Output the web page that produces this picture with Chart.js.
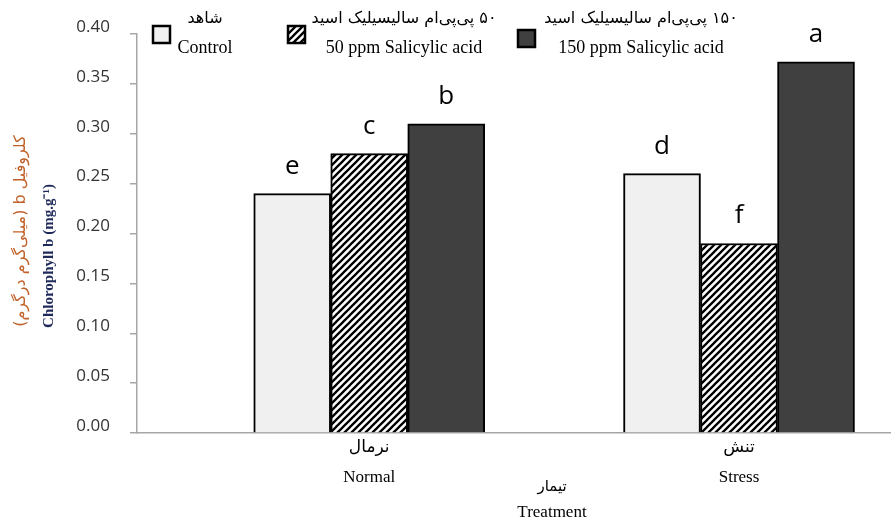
<!DOCTYPE html>
<html>
<head>
<meta charset="utf-8">
<script src="https://cdn.jsdelivr.net/npm/chart.js@4.4.1/dist/chart.umd.min.js"></script>
<style>
  body { margin: 0; background: #fff; }
  canvas { display: block; }
</style>
</head>
<body>
<canvas id="chart" width="891" height="522"></canvas>
<script>
// groups on the x axis
const groupsFa = ["نرمال", "تنش"];
const groupsEn = ["Normal", "Stress"];

// series names (legend)
const seriesFa = ["شاهد", "۵۰ پی‌پی‌ام سالیسیلیک اسید", "۱۵۰ پی‌پی‌ام سالیسیلیک اسید"];
const seriesEn = ["Control", "50 ppm Salicylic acid", "150 ppm Salicylic acid"];

// chlorophyll b (mg.g-1), one value per group
const controlValues = [0.24, 0.26];
const sa50Values = [0.28, 0.19];
const sa150Values = [0.31, 0.372];

// Duncan letters above the bars
const controlLetters = ["e", "d"];
const sa50Letters = ["c", "f"];
const sa150Letters = ["b", "a"];

// y axis tick labels
const yTicks = ["0.00", "0.05", "0.10", "0.15", "0.20", "0.25", "0.30", "0.35", "0.40"];

(function () {
  "use strict";

  const canvas = document.getElementById("chart");
  const ctx = canvas.getContext("2d");

  // diagonal hatch for the 50 ppm bars
  function makeHatch() {
    const n = 7;
    const tile = document.createElement("canvas");
    tile.width = n;
    tile.height = n;
    const t = tile.getContext("2d");
    t.fillStyle = "#fff";
    t.fillRect(0, 0, n, n);
    t.strokeStyle = "#000";
    t.lineWidth = 2.3;
    t.beginPath();
    t.moveTo(-1, n + 1); t.lineTo(n + 1, -1);
    t.moveTo(-1, 1); t.lineTo(1, -1);
    t.moveTo(n - 1, n + 1); t.lineTo(n + 1, n - 1);
    t.stroke();
    return ctx.createPattern(tile, "repeat");
  }
  const hatch = makeHatch();

  const fills = ["#f0f0f0", hatch, "#404040"];
  const seriesValues = [controlValues, sa50Values, sa150Values];
  const seriesLetters = [controlLetters, sa50Letters, sa150Letters];

  // letters, legend and axis titles drawn on the canvas
  const extrasPlugin = {
    id: "extras",
    afterDatasetsDraw(chart) {
      const c = chart.ctx;
      c.save();
      c.fillStyle = "#000";
      c.font = "26px 'Open Sans'";
      c.textAlign = "center";
      c.textBaseline = "alphabetic";
      seriesLetters.forEach((letters, s) => {
        chart.getDatasetMeta(s).data.forEach((bar, i) => {
          c.fillText(letters[i], bar.x, bar.y - 20);
        });
      });
      c.restore();
    },
    afterDraw(chart) {
      const c = chart.ctx;
      c.save();

      // legend
      const items = [
        { bx: 153, by: 26, cx: 205 },
        { bx: 288, by: 26, cx: 404 },
        { bx: 518, by: 30, cx: 641 },
      ];
      items.forEach((it, s) => {
        c.fillStyle = fills[s];
        c.fillRect(it.bx, it.by, 17, 17);
        c.strokeStyle = "#000";
        c.lineWidth = 2.5;
        c.strokeRect(it.bx, it.by, 17, 17);

        c.fillStyle = "#000";
        c.textAlign = "center";
        c.textBaseline = "middle";
        c.direction = "rtl";
        c.font = "16px 'DejaVu Sans'";
        c.fillText(seriesFa[s], it.cx, 19);
        c.direction = "ltr";
        c.font = "18px 'Liberation Serif'";
        c.textBaseline = "alphabetic";
        c.fillText(seriesEn[s], it.cx, 53);
      });

      // y axis title, two lines
      c.save();
      c.translate(21, 231);
      c.rotate(-Math.PI / 2);
      c.textAlign = "center";
      c.textBaseline = "middle";
      c.direction = "rtl";
      c.fillStyle = "#c0622a";
      c.font = "16px 'DejaVu Sans'";
      c.fillText("کلروفیل b (میلی‌گرم درگرم)", 0, 0);
      c.restore();

      c.save();
      c.translate(49, 256);
      c.rotate(-Math.PI / 2);
      c.textAlign = "center";
      c.textBaseline = "middle";
      c.fillStyle = "#1f2a5a";
      c.font = "bold 15px 'Liberation Serif'";
      c.fillText("Chlorophyll b (mg.g⁻¹)", 0, 0);
      c.restore();

      // x axis title
      c.textAlign = "center";
      c.textBaseline = "middle";
      c.fillStyle = "#000";
      c.direction = "rtl";
      c.font = "15px 'DejaVu Sans'";
      c.fillText("تیمار", 552, 487);
      c.direction = "ltr";
      c.font = "17px 'Liberation Serif'";
      c.fillText("Treatment", 552, 513);

      c.restore();
    },
  };

  new Chart(ctx, {
    type: "bar",
    data: {
      datasets: seriesValues.map((vals, s) => ({
        label: seriesEn[s],
        data: vals.map((v, i) => ({ x: i + 1, y: v })),
        backgroundColor: fills[s],
        borderColor: "#000",
        borderWidth: 2,
        barThickness: 77,
      })),
    },
    options: {
      responsive: false,
      animation: false,
      devicePixelRatio: 1,
      layout: { padding: { top: 34, left: 0, right: 0, bottom: 0 } },
      plugins: {
        legend: { display: false },
        tooltip: { enabled: false },
      },
      scales: {
        x: {
          type: "linear",
          min: 0.372,
          max: 2.411,
          offset: false,
          grid: { display: false, drawTicks: false, offset: false },
          border: { display: true, color: "#a6a6a6", width: 1.5 },
          afterBuildTicks: (scale) => {
            scale.ticks = groupsEn.map((g, i) => ({ value: i + 1 }));
          },
          afterFit: (scale) => {
            scale.height = 89;
          },
          ticks: {
            padding: 0,
            autoSkip: false,
            maxRotation: 0,
            color: "#000",
            font: { family: "'Liberation Serif', 'DejaVu Sans'", size: 17, lineHeight: 1.75 },
            callback: (value, index) => [groupsFa[index], groupsEn[index]],
          },
        },
        y: {
          min: 0,
          max: 0.4,
          grid: {
            drawOnChartArea: false,
            drawTicks: true,
            tickLength: 7,
            color: "#a6a6a6",
            lineWidth: 1.5,
          },
          border: { display: true, color: "#a6a6a6", width: 1.5 },
          afterFit: (scale) => {
            scale.width = 137;
          },
          ticks: {
            stepSize: 0.05,
            padding: 20,
            labelOffset: -7,
            color: "#333333",
            font: { family: "'Open Sans'", size: 17 },
            callback: (value, index) => yTicks[index],
          },
        },
      },
    },
    plugins: [extrasPlugin],
  });
})();
</script>
</body>
</html>
